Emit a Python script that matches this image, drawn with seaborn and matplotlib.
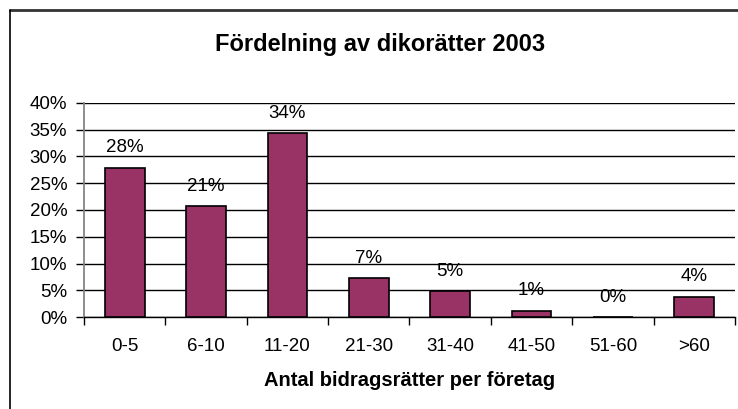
"""
Fördelning av dikorätter 2003 - bar chart recreated with seaborn.
"""

import numpy as np
import pandas as pd
import matplotlib
matplotlib.use("Agg")
import matplotlib.pyplot as plt
from matplotlib.lines import Line2D
from matplotlib.ticker import PercentFormatter, FixedLocator
import seaborn as sns

# Data
categories = ["0-5", "6-10", "11-20", "21-30", "31-40", "41-50", "51-60", ">60"]
shares = [27.9, 20.7, 34.3, 7.2, 4.9, 1.2, 0.0, 3.8]
value_labels = ["28%", "21%", "34%", "7%", "5%", "1%", "0%", "4%"]
y_ticks = [0, 5, 10, 15, 20, 25, 30, 35, 40]

title = "Fördelning av dikorätter 2003"
x_label = "Antal bidragsrätter per företag"
bar_color = "#993366"

sns.set_theme(style="white")
plt.rcParams["font.family"] = ["Liberation Sans", "DejaVu Sans"]

df = pd.DataFrame({"kategori": categories, "andel": shares})

W, H = 738, 409
fig = plt.figure(figsize=(W / 100, H / 100), dpi=100)
ax = fig.add_axes([84 / W, 1 - 317 / H, (735 - 84) / W, (317 - 103) / H])

sns.barplot(data=df, x="kategori", y="andel", color=bar_color, width=0.49,
            edgecolor="black", linewidth=1.2, saturation=1, ax=ax, zorder=3)

ax.set_xlim(-0.5, len(categories) - 0.5)
ax.set_ylim(0, 40)
ax.set_yticks(y_ticks)
ax.yaxis.set_major_formatter(PercentFormatter(decimals=0))
ax.yaxis.grid(True, color="black", linewidth=1)
ax.set_axisbelow(True)

# tick marks between categories, labels centered
ax.xaxis.set_minor_locator(FixedLocator(np.arange(-0.5, len(categories), 1.0)))
ax.tick_params(axis="x", which="major", length=0, pad=15, labelsize=13.5, colors="black")
ax.tick_params(axis="x", which="minor", length=6, width=1, color="black", bottom=True)
ax.tick_params(axis="y", which="major", length=6, width=1, color="black", left=True,
               pad=6, labelsize=13.5, colors="black")

for side in ["top", "right"]:
    ax.spines[side].set_visible(False)
ax.spines["left"].set_color("#808080")
ax.spines["bottom"].set_color("black")
ax.spines["bottom"].set_linewidth(1)

ax.set_xlabel(x_label, fontsize=14.5, fontweight="bold", labelpad=12, color="black")
ax.set_ylabel("")

for i, (v, lab) in enumerate(zip(shares, value_labels)):
    ax.annotate(lab, (i, v), xytext=(0, 11), textcoords="offset points",
                ha="center", va="baseline", fontsize=13.5, color="black")

fig.text(380 / W, 1 - 45 / H, title, ha="center", va="center",
         fontsize=17, fontweight="bold", color="black")

# chart frame
fig.add_artist(Line2D([10 / W, 1], [1 - 10 / H, 1 - 10 / H], transform=fig.transFigure,
                      color="#333333", linewidth=2))
fig.add_artist(Line2D([10 / W, 10 / W], [0, 1 - 10 / H], transform=fig.transFigure,
                      color="black", linewidth=1.2))

fig.savefig("out.png", dpi=100)
